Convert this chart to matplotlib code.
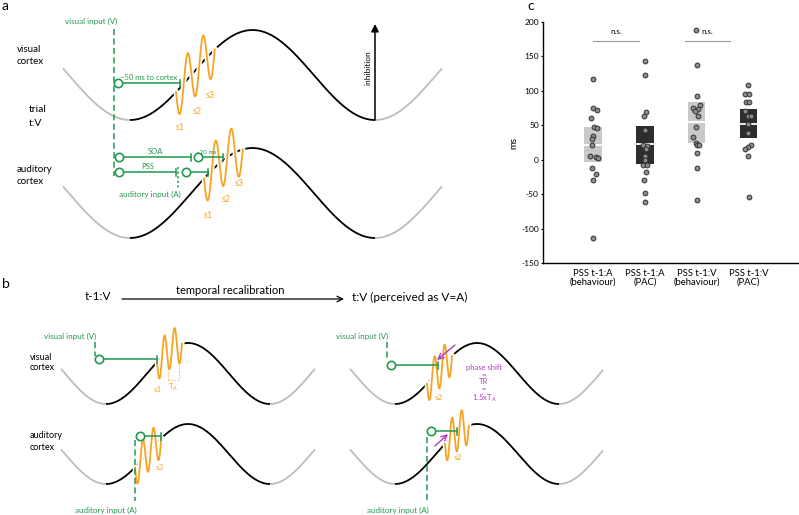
import numpy as np
import matplotlib.pyplot as plt
import matplotlib.patheffects as pe

plt.rcParams['font.family'] = ['Lato', 'DejaVu Sans']
plt.rcParams['axes.unicode_minus'] = False

GREEN = '#22994f'
ORANGE = '#f7a425'
PURPLE = '#b23cc6'
GRAY = '#bdbdbd'

# ---- panel c data (ms) ----
categories = ['PSS t-1:A\n(behaviour)', 'PSS t-1:A\n(PAC)', 'PSS t-1:V\n(behaviour)', 'PSS t-1:V\n(PAC)']
pss_a_beh = [117, 75, 72, 61, 48, 46, 35, 30, 21, 5, 4, 2, -12, -21, -29, -113]
pss_a_beh_dx = [0, 0, .065, -.045, .013, .065, 0, -.032, -.013, -.065, .052, .084, -.02, .052, 0, 0]
pss_a_pac = [143, 123, 70, 63, 43, 21, 20, 16, 6, 0, -7, -7, -18, -29, -48, -62]
pss_a_pac_dx = [0, 0, .02, -.026, -.006, -.045, .032, .013, 0, -.006, -.045, .039, .02, -.02, 0, 0]
pss_v_beh = [189, 137, 92, 80, 75, 73, 71, 64, 47, 33, 24, 22, 21, 10, -12, -59]
pss_v_beh_dx = [-.013, 0, 0, .065, -.065, .02, -.032, .02, -.02, -.077, -.02, 0, .045, 0, 0, 0]
pss_v_pac = [109, 96, 96, 84, 84, 71, 63, 63, 52, 39, 22, 18, 16, 5, -54]
pss_v_pac_dx = [-.013, -.065, .013, -.045, .013, -.065, -.013, .045, 0, 0, .045, -.006, -.065, -.013, .006]
box_q1 = [-4, -6, 25, 32]
box_med = [22, 23, 55, 52]
box_q3 = [47, 49, 84, 74]
box_colors = ['#c9c9c9', '#2d2d2d', '#c9c9c9', '#2d2d2d']

# ---- schematic waves: x_start, x_end, x_trough, period, y_center, amplitude (pixels) ----
a_visual = (63, 442, 130, 245, 75, 45)
a_auditory = (63, 442, 130, 245, 193, 45)
b_visual_l = (61, 315, 106, 164, 373.5, 30.5)
b_auditory_l = (61, 315, 106, 164, 454, 30)
b_visual_r = (350, 603, 395, 164, 373.5, 30.5)
b_auditory_r = (350, 603, 395, 164, 454, 30)

# bursts: start x, period, amplitude
a_burst_v = (176, 15.5, 26)
a_burst_a = (204, 15.5, 26)
b_burst_vl = (157, 10, 19)
b_burst_al = (135, 10.5, 19)
b_burst_vr = (427, 10, 19)
b_burst_ar = (445, 9.5, 19)

fig = plt.figure(figsize=(7.99, 5.15), dpi=100)
ax = fig.add_axes([0, 0, 1, 1])
ax.set_xlim(0, 799)
ax.set_ylim(515, 0)
ax.axis('off')


def wave_y(w, x):
    x0, x1, xt, P, yc, A = w
    return yc + A * np.cos(2 * np.pi * (x - xt) / P)


def draw_wave(w, burst=None, mid_color='k'):
    x0, x1, xt, P, yc, A = w
    x = np.linspace(x0, xt, 100)
    ax.plot(x, wave_y(w, x), color=GRAY, lw=1.3, solid_capstyle='butt')
    x = np.linspace(xt + P, x1, 100)
    ax.plot(x, wave_y(w, x), color=GRAY, lw=1.3, solid_capstyle='butt')
    if burst is None or mid_color == 'k':
        x = np.linspace(xt, xt + P, 400)
        ax.plot(x, wave_y(w, x), color='k', lw=1.3, solid_capstyle='butt')
    else:
        bs, T, _ = burst
        be = bs + 2.5 * T
        x = np.linspace(xt, bs, 200)
        ax.plot(x, wave_y(w, x), color='k', lw=1.3, solid_capstyle='butt')
        x = np.linspace(bs, be, 60)
        ax.plot(x, wave_y(w, x), color=mid_color, lw=1.3, solid_capstyle='butt')
        x = np.linspace(be, xt + P, 200)
        ax.plot(x, wave_y(w, x), color='k', lw=1.3, solid_capstyle='butt')
    if burst is not None:
        bs, T, Ab = burst
        x = np.linspace(bs, bs + 2.5 * T, 200)
        y = wave_y(w, x) + Ab * np.sin(2 * np.pi * (x - bs) / T)
        ax.plot(x, y, color=ORANGE, lw=1.3,
                path_effects=[pe.Stroke(linewidth=3.6, foreground='white'), pe.Normal()])


def connector(xc, xe, y, label=None, fs=5.5, lx=None):
    ax.plot([xc, xe], [y, y], color=GREEN, lw=1.1)
    ax.plot([xe, xe], [y - 3.5, y + 3.5], color=GREEN, lw=1.1)
    ax.plot(xc, y, 'o', ms=6, mfc='white', mec=GREEN, mew=1.2)
    if label:
        ax.text(lx if lx else (xc + xe) / 2, y - 2, label, color=GREEN, fontsize=fs,
                ha='center', va='bottom')


def vdash(x, y0, y1, style=(0, (4, 2.2))):
    ax.plot([x, x], [y0, y1], color=GREEN, lw=1.1, linestyle=style)


# ---------------- panel a ----------------
ax.text(2, 6, 'a', fontsize=10, va='center')
draw_wave(a_visual, a_burst_v)
draw_wave(a_auditory, a_burst_a)

ax.text(17, 49, 'visual', fontsize=7)
ax.text(17, 62, 'cortex', fontsize=7)
ax.text(29, 110, 'trial', fontsize=7.5)
ax.text(29, 124, 't:V', fontsize=7.5)
ax.text(17, 169, 'auditory', fontsize=7)
ax.text(17, 182, 'cortex', fontsize=7)
for t in (ax.texts[-6:]):
    t.set_va('center')

ax.text(91, 21, 'visual input (V)', color=GREEN, fontsize=5.8, ha='center', va='center')
vdash(113.5, 29, 176)
connector(118, 180, 83, '~50 ms to cortex')
connector(119, 191, 157, 'SOA')
connector(198, 223, 157, '~20 ms', fs=4.5, lx=206)
connector(119, 176, 172, 'PSS')
connector(186, 208, 172)
vdash(178, 167, 190, style=(0, (1.5, 1.5)))
ax.text(150, 194, 'auditory input (A)', color=GREEN, fontsize=5.8, ha='center', va='center')

for sx, sy, s in [(180, 127, 's1'), (197, 111, 's2'), (210, 95, 's3'),
                  (208, 216, 's1'), (226, 200, 's2'), (239, 183, 's3')]:
    ax.text(sx, sy, s, color=ORANGE, fontsize=6.5, ha='center', va='center')

ax.annotate('', xy=(375, 24), xytext=(375, 120),
            arrowprops=dict(arrowstyle='-|>', color='k', lw=1.1, mutation_scale=11,
                            shrinkA=0, shrinkB=0))
ax.text(368, 68, 'inhibition', rotation=90, fontsize=6, ha='center', va='center')

# ---------------- panel b ----------------
ax.text(2, 284, 'b', fontsize=10, va='center')
ax.text(98, 297, 't-1:V', fontsize=8.5, ha='center', va='center')
ax.text(230, 291, 'temporal recalibration', fontsize=8, ha='center', va='center')
ax.text(352, 297, 't:V (perceived as V=A)', fontsize=8.5, ha='left', va='center')
ax.annotate('', xy=(344, 299), xytext=(122, 299),
            arrowprops=dict(arrowstyle='->', color='k', lw=0.9, shrinkA=0, shrinkB=0))

draw_wave(b_visual_l, b_burst_vl, PURPLE)
draw_wave(b_auditory_l, b_burst_al, PURPLE)
draw_wave(b_visual_r, b_burst_vr, PURPLE)
draw_wave(b_auditory_r, b_burst_ar, PURPLE)

ax.text(30, 357, 'visual', fontsize=6.5, va='center')
ax.text(30, 368, 'cortex', fontsize=6.5, va='center')
ax.text(30, 436, 'auditory', fontsize=6.5, va='center')
ax.text(30, 447, 'cortex', fontsize=6.5, va='center')

# left column
ax.text(70, 336, 'visual input (V)', color=GREEN, fontsize=5.8, ha='center', va='center')
vdash(95, 342, 356)
connector(99, 157, 359)
connector(140, 161, 436)
vdash(135, 440, 501)
ax.text(106, 510, 'auditory input (A)', color=GREEN, fontsize=5.8, ha='center', va='center')

# right column
ax.text(362, 336, 'visual input (V)', color=GREEN, fontsize=5.8, ha='center', va='center')
vdash(387, 342, 360)
connector(391, 438, 365)
connector(431, 457, 431)
vdash(427, 437, 501)
ax.text(398, 510, 'auditory input (A)', color=GREEN, fontsize=5.8, ha='center', va='center')

# T_A marker
ax.plot([168, 168], [372, 380], color=ORANGE, lw=0.8, ls=':')
ax.plot([178.5, 178.5], [362, 380], color=ORANGE, lw=0.8, ls=':')
ax.plot([168, 178.5], [380, 380], color=ORANGE, lw=0.8, ls=':')
ax.text(173, 387, 'T$_\\mathregular{A}$', color=ORANGE, fontsize=5.5, ha='center', va='center')

for sx, sy, s in [(158, 389, 's1'), (160, 468, 's3'), (439, 397, 's2'), (458, 458, 's2')]:
    ax.text(sx, sy, s, color=ORANGE, fontsize=5.8, ha='center', va='center')

ax.annotate('', xy=(437, 360), xytext=(455, 345),
            arrowprops=dict(arrowstyle='->', color=PURPLE, lw=1, shrinkA=0, shrinkB=0))
ax.annotate('', xy=(448, 434), xytext=(435, 446),
            arrowprops=dict(arrowstyle='->', color=PURPLE, lw=1, shrinkA=0, shrinkB=0))
ax.text(484, 384, 'phase shift\n=\nTR\n=\n1.5xT$_\\mathregular{A}$', color=PURPLE, fontsize=5.5,
        ha='center', va='center', linespacing=1.0)

# ---------------- panel c ----------------
ax.text(527, 6, 'c', fontsize=10, va='center')
axc = fig.add_axes([543 / 799, 1 - 263 / 515, 256 / 799, (263 - 22) / 515])
axc.patch.set_alpha(0)
width = 0.34
for i in range(4):
    axc.bar(i, box_q3[i] - box_q1[i], bottom=box_q1[i], width=width,
            color=box_colors[i], zorder=1)
    axc.plot([i - width / 2, i + width / 2], [box_med[i], box_med[i]], color='white', lw=1.3, zorder=2)

series = [(pss_a_beh, pss_a_beh_dx), (pss_a_pac, pss_a_pac_dx),
          (pss_v_beh, pss_v_beh_dx), (pss_v_pac, pss_v_pac_dx)]
for i, (vals, dx) in enumerate(series):
    axc.scatter(np.array(dx) + i, vals, s=12, color='#8c8c8c', edgecolor='#333333',
                linewidth=0.7, zorder=3)

# n.s. brackets
for xa, xb in [(0, 0.88), (1.78, 2.65)]:
    axc.plot([xa, xb], [172, 172], color='#999999', lw=0.8)
    axc.text((xa + xb) / 2, 186, 'n.s.', fontsize=5.8, ha='center', va='center')

axc.set_xlim(-0.97, 3.98)
axc.set_ylim(-150, 200)
axc.set_yticks(np.arange(-150, 201, 50))
axc.set_xticks(range(4))
axc.set_xticklabels(categories, fontsize=6.8, linespacing=0.95)
axc.tick_params(axis='x', length=0, pad=4)
axc.tick_params(axis='y', length=1.5, labelsize=6, pad=1.5)
for s in ['top', 'right']:
    axc.spines[s].set_visible(False)
axc.spines['left'].set_linewidth(1)
axc.spines['bottom'].set_linewidth(1)
axc.set_ylabel('ms', fontsize=7, labelpad=2)

fig.savefig('out.png', dpi=100)
